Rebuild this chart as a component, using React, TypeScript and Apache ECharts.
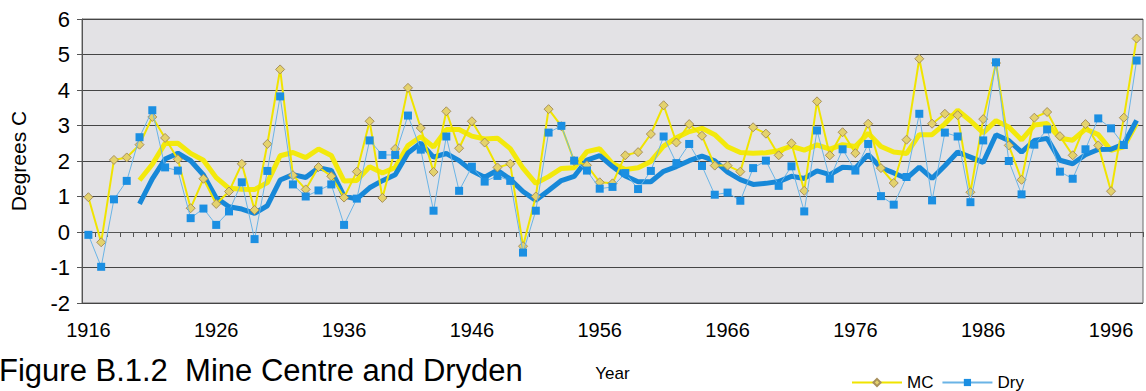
import React, { useEffect, useRef } from "react";
import * as echarts from "echarts";

const years: string[] = Array.from({ length: 83 }, (_, i) => String(1916 + i));

const mcValues: number[] = [
  0.98, -0.29, 2.03, 2.1, 2.46, 3.24, 2.65, 2.05, 0.67, 1.5,
  0.79, 1.14, 1.92, 0.62, 2.48, 4.58, 1.6, 1.2, 1.83, 1.57,
  0.97, 1.7, 3.12, 0.96, 2.34, 4.06, 2.93, 1.69, 3.4, 2.36,
  3.12, 2.52, 1.82, 1.92, -0.4, 1.0, 3.46, 2.98, 2.0, 1.88,
  1.4, 1.37, 2.16, 2.25, 2.76, 3.57, 2.52, 3.04, 2.71, 1.87,
  1.87, 1.7, 2.95, 2.77, 2.16, 2.5, 1.16, 3.68, 2.16, 2.81,
  2.22, 3.05, 1.8, 1.38, 2.6, 4.88, 3.05, 3.33, 3.29, 1.12,
  3.18, 4.76, 2.44, 1.47, 3.22, 3.38, 2.7, 2.16, 3.04, 2.44,
  1.15, 3.22, 5.45,
];

const dryValues: number[] = [
  -0.08, -0.98, 0.92, 1.44, 2.67, 3.43, 1.82, 1.73, 0.39, 0.66,
  0.2, 0.58, 1.4, -0.2, 1.72, 3.82, 1.34, 1.0, 1.17, 1.34,
  0.2, 0.94, 2.58, 2.17, 2.17, 3.28, 2.32, 0.6, 2.69, 1.16,
  1.84, 1.42, 1.58, 1.44, -0.58, 0.6, 2.8, 2.99, 2.01, 1.73,
  1.22, 1.27, 1.66, 1.21, 1.72, 2.69, 1.94, 2.48, 1.86, 1.05,
  1.11, 0.88, 1.8, 2.01, 1.3, 1.85, 0.58, 2.86, 1.5, 2.33,
  1.73, 2.48, 1.01, 0.77, 1.55, 3.33, 0.89, 2.8, 2.69, 0.84,
  2.58, 4.78, 2.0, 1.06, 2.46, 2.89, 1.7, 1.5, 2.33, 3.2,
  2.92, 2.45, 4.83,
];

const yTicks = { min: -2, max: 6, interval: 1 };
const trendPeriod = 5;

// Excel-style "moving average" trendline of the plotted series
function movingAverage(values: number[], period: number): (number | null)[] {
  return values.map((_, i) => {
    if (i < period - 1) return null;
    const win = values.slice(i - period + 1, i + 1);
    return Math.round((win.reduce((a, b) => a + b, 0) / period) * 1000) / 1000;
  });
}

export default function App() {
  const ref = useRef<HTMLDivElement>(null);

  useEffect(() => {
    if (!ref.current) return;
    const chart = echarts.init(ref.current, undefined, { renderer: "svg" });
    const font = "Arial, 'Liberation Sans', sans-serif";
    chart.setOption({
      animation: false,
      grid: {
        left: 76,
        right: 3,
        top: 19,
        bottom: 88,
        show: true,
        backgroundColor: "#e3e2e5",
        borderColor: "#6a6a6a",
        borderWidth: 1,
      },
      legend: {
        data: ["MC", "Dry"],
        left: 846,
        top: 369,
        itemWidth: 50,
        itemHeight: 9,
        itemGap: 8,
        textStyle: { fontFamily: font, fontSize: 17, color: "#000" },
      },
      xAxis: {
        type: "category",
        data: years,
        boundaryGap: true,
        name: "Year",
        nameLocation: "middle",
        nameGap: 62,
        nameTextStyle: { fontFamily: font, fontSize: 17, color: "#000" },
        axisLine: { lineStyle: { color: "#555", width: 1 } },
        axisTick: { show: true, interval: 0, length: 5, lineStyle: { color: "#555" } },
        axisLabel: {
          interval: 9,
          fontFamily: font,
          fontSize: 20,
          color: "#000",
          margin: 17,
        },
        splitLine: { show: false },
      },
      yAxis: {
        type: "value",
        min: yTicks.min,
        max: yTicks.max,
        interval: yTicks.interval,
        name: "Degrees C",
        nameLocation: "middle",
        nameGap: 53,
        nameRotate: 90,
        nameTextStyle: { fontFamily: font, fontSize: 21, color: "#000" },
        axisLine: { show: true, lineStyle: { color: "#555" } },
        axisTick: { show: true, length: 5, lineStyle: { color: "#555" } },
        axisLabel: { fontFamily: font, fontSize: 22, color: "#000", margin: 12 },
        splitLine: { show: true, lineStyle: { color: "#454545", width: 1 } },
      },
      series: [
        {
          name: "MC trend",
          type: "line",
          data: movingAverage(mcValues, trendPeriod),
          showSymbol: false,
          symbol: "none",
          silent: true,
          lineStyle: { color: "#f3e90c", width: 5 },
          z: 2,
        },
        {
          name: "Dry trend",
          type: "line",
          data: movingAverage(dryValues, trendPeriod),
          showSymbol: false,
          symbol: "none",
          silent: true,
          lineStyle: { color: "#1788d8", width: 5 },
          z: 3,
        },
        {
          name: "MC",
          type: "line",
          data: mcValues,
          showSymbol: true,
          showAllSymbol: true,
          symbol: "diamond",
          symbolSize: 9,
          lineStyle: { color: "#f0e400", width: 2 },
          itemStyle: { color: "#e4d26c", borderColor: "#a8905c", borderWidth: 1 },
          z: 4,
        },
        {
          name: "Dry",
          type: "line",
          data: dryValues,
          showSymbol: true,
          showAllSymbol: true,
          symbol: "rect",
          symbolSize: 8,
          lineStyle: { color: "#6ab4e6", width: 1 },
          itemStyle: { color: "#1b8fe2" },
          z: 5,
        },
      ],
      graphic: [
        {
          type: "text",
          left: -1,
          top: 355,
          style: {
            text: "Figure B.1.2  Mine Centre and Dryden",
            fontFamily: font,
            fontSize: 31,
            fill: "#000",
          },
        },
      ],
    });
    return () => chart.dispose();
  }, []);

  return (
    <div
      ref={ref}
      style={{ position: "absolute", left: 0, top: 0, width: 1146, height: 391, background: "#fff" }}
    />
  );
}
